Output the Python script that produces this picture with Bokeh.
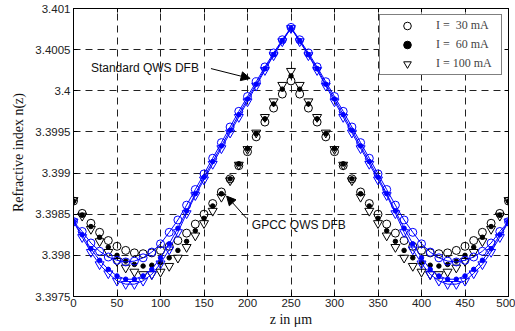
from bokeh.plotting import figure
from bokeh.models import (Range1d, LinearAxis, Legend, LegendItem, Label, Arrow, NormalHead,
                          FixedTicker, CustomJSTickFormatter)
from bokeh.embed import file_html
from bokeh.resources import INLINE

# ---------------- data ----------------
z = [0, 10, 20, 30, 40, 50, 60, 70, 80, 90, 100, 110, 120, 130, 140, 150, 160, 170, 180, 190, 200,
     210, 220, 230, 240, 250, 260, 270, 280, 290, 300, 310, 320, 330, 340, 350, 360, 370, 380, 390,
     400, 410, 420, 430, 440, 450, 460, 470, 480, 490, 500]

# Standard QWS DFB (blue, markers + line)
std_30 = [3.39841, 3.39829, 3.39815, 3.39805, 3.39798, 3.39794, 3.39792, 3.39793, 3.39797, 3.39804,
          3.39814, 3.39828, 3.39843, 3.39861, 3.39880, 3.39899, 3.39918, 3.39937, 3.39956, 3.39975,
          3.39993, 3.40011, 3.40029, 3.40046, 3.40062, 3.40077,
          3.40062, 3.40046, 3.40029, 3.40011, 3.39993, 3.39975, 3.39956, 3.39937, 3.39918, 3.39899,
          3.39880, 3.39861, 3.39843, 3.39828, 3.39814, 3.39804, 3.39797, 3.39793, 3.39792, 3.39794,
          3.39798, 3.39805, 3.39815, 3.39829, 3.39841]
std_60 = [3.39841, 3.39825, 3.39808, 3.39794, 3.39783, 3.39775, 3.39771, 3.39771, 3.39775, 3.39783,
          3.39797, 3.39814, 3.39833, 3.39854, 3.39875, 3.39895, 3.39914, 3.39933, 3.39952, 3.39971,
          3.39990, 3.40008, 3.40027, 3.40044, 3.40061, 3.40076,
          3.40061, 3.40044, 3.40027, 3.40008, 3.39990, 3.39971, 3.39952, 3.39933, 3.39914, 3.39895,
          3.39875, 3.39854, 3.39833, 3.39814, 3.39797, 3.39783, 3.39775, 3.39771, 3.39771, 3.39775,
          3.39783, 3.39794, 3.39808, 3.39825, 3.39841]
std_100 = [3.39841, 3.39822, 3.39804, 3.39789, 3.39778, 3.39769, 3.39765, 3.39765, 3.39769, 3.39777,
           3.39790, 3.39807, 3.39828, 3.39851, 3.39873, 3.39892, 3.39911, 3.39930, 3.39949, 3.39968,
           3.39987, 3.40006, 3.40025, 3.40043, 3.40060, 3.40076,
           3.40060, 3.40043, 3.40025, 3.40006, 3.39987, 3.39968, 3.39949, 3.39930, 3.39911, 3.39892,
           3.39873, 3.39851, 3.39828, 3.39807, 3.39790, 3.39777, 3.39769, 3.39765, 3.39765, 3.39769,
           3.39778, 3.39789, 3.39804, 3.39822, 3.39841]

# GPCC QWS DFB (black, markers only)
gpcc_30 = [3.39866, 3.39851, 3.39839, 3.39828, 3.39818, 3.39811, 3.39806, 3.39803, 3.39802, 3.39803,
           3.39806, 3.39811, 3.39818, 3.39827, 3.39838, 3.39850, 3.39863, 3.39877, 3.39893, 3.39909,
           3.39926, 3.39944, 3.39962, 3.39979, 3.39996, 3.40012,
           3.39996, 3.39979, 3.39962, 3.39944, 3.39926, 3.39909, 3.39893, 3.39877, 3.39863, 3.39850,
           3.39838, 3.39827, 3.39818, 3.39811, 3.39806, 3.39803, 3.39802, 3.39803, 3.39806, 3.39811,
           3.39818, 3.39828, 3.39839, 3.39851, 3.39866]
gpcc_60 = [3.39866, 3.39849, 3.39835, 3.39822, 3.39810, 3.39800, 3.39793, 3.39789, 3.39787, 3.39788,
           3.39791, 3.39797, 3.39806, 3.39817, 3.39830, 3.39845, 3.39860, 3.39875, 3.39893, 3.39911,
           3.39930, 3.39948, 3.39966, 3.39984, 3.40002, 3.40018,
           3.40002, 3.39984, 3.39966, 3.39948, 3.39930, 3.39911, 3.39893, 3.39875, 3.39860, 3.39845,
           3.39830, 3.39817, 3.39806, 3.39797, 3.39791, 3.39788, 3.39787, 3.39789, 3.39793, 3.39800,
           3.39810, 3.39822, 3.39835, 3.39849, 3.39866]
gpcc_100 = [3.39867, 3.39848, 3.39832, 3.39817, 3.39804, 3.39793, 3.39785, 3.39780, 3.39777, 3.39777,
            3.39780, 3.39787, 3.39797, 3.39810, 3.39824, 3.39839, 3.39854, 3.39871, 3.39891, 3.39910,
            3.39929, 3.39949, 3.39968, 3.39987, 3.40007, 3.40024,
            3.40007, 3.39987, 3.39968, 3.39949, 3.39929, 3.39910, 3.39891, 3.39871, 3.39854, 3.39839,
            3.39824, 3.39810, 3.39797, 3.39787, 3.39780, 3.39777, 3.39777, 3.39780, 3.39785, 3.39793,
            3.39804, 3.39817, 3.39832, 3.39848, 3.39867]

legend_labels = ["I =  30 mA", "I =  60 mA", "I = 100 mA"]
x_ticks = [0, 50, 100, 150, 200, 250, 300, 350, 400, 450, 500]
y_ticks = [3.3975, 3.398, 3.3985, 3.399, 3.3995, 3.4, 3.4005, 3.401]
y_tick_labels = ["3.3975", "3.398", "3.3985", "3.399", "3.3995", "3.4", "3.4005", "3.401"]

# ---------------- figure ----------------
p = figure(width=515, height=331, output_backend="svg", toolbar_location=None,
           x_range=Range1d(0, 500), y_range=Range1d(3.3975, 3.401),
           min_border_left=73, min_border_right=7, min_border_top=8, min_border_bottom=35)
p.background_fill_color = "white"
p.border_fill_color = "white"
p.outline_line_color = "black"
p.outline_line_width = 1

SANS = "Liberation Sans"
SERIF = "Liberation Serif"

p.xaxis.ticker = FixedTicker(ticks=x_ticks)
p.yaxis.ticker = FixedTicker(ticks=y_ticks)
p.yaxis.major_label_overrides = {v: s for v, s in zip(y_ticks, y_tick_labels)}
for ax in [p.xaxis[0], p.yaxis[0]]:
    ax.major_tick_in = 4
    ax.major_tick_out = 0
    ax.minor_tick_line_color = None
    ax.axis_line_color = "black"
    ax.major_tick_line_color = "black"
    ax.major_label_text_font = SANS
    ax.major_label_text_font_size = "11.5px"
    ax.major_label_text_color = "#222222"
    ax.axis_label_text_font = SERIF
    ax.axis_label_text_font_size = "14px"
    ax.axis_label_text_font_style = "normal"
    ax.axis_label_text_color = "#111111"
p.xaxis.axis_label = "z in \u03bcm"
p.yaxis.axis_label = "Refractive index n(z)"
p.xaxis.major_label_standoff = 2
p.xaxis.axis_label_standoff = 2
p.yaxis.major_label_standoff = 3
p.yaxis.axis_label_standoff = 6

# tick marks on top and right (box), no labels
blank = CustomJSTickFormatter(code="return ''")
top_ax = LinearAxis(ticker=FixedTicker(ticks=x_ticks), formatter=blank,
                    major_label_standoff=0, major_tick_in=4, major_tick_out=0,
                    minor_tick_line_color=None, axis_line_color="black")
right_ax = LinearAxis(ticker=FixedTicker(ticks=y_ticks), formatter=blank,
                      major_label_standoff=0, major_tick_in=4, major_tick_out=0,
                      minor_tick_line_color=None, axis_line_color="black")
p.add_layout(top_ax, "above")
p.add_layout(right_ax, "right")

# dashed grid
p.xgrid[0].ticker = FixedTicker(ticks=x_ticks)
p.ygrid[0].ticker = FixedTicker(ticks=y_ticks)
for g in [p.xgrid[0], p.ygrid[0]]:
    g.grid_line_color = "#222222"
    g.grid_line_dash = "7 5"
    g.grid_line_width = 1

BLUE = "#0000ff"

# GPCC markers (black)
r_c = p.scatter(z, gpcc_30, marker="circle", size=8, fill_color=None, line_color="black", line_width=1)
r_d = p.scatter(z, gpcc_60, marker="circle", size=4.5, fill_color="black", line_color="black")
r_t = p.scatter(z, gpcc_100, marker="inverted_triangle", size=9, fill_color=None, line_color="black", line_width=1)

# Standard QWS (blue)
for ys in [std_30, std_60, std_100]:
    p.line(z, ys, line_color=BLUE, line_width=1)
p.scatter(z, std_30, marker="circle", size=8, fill_color=None, line_color=BLUE, line_width=1)
p.scatter(z, std_60, marker="circle", size=4.5, fill_color=BLUE, line_color=BLUE)
p.scatter(z, std_100, marker="inverted_triangle", size=9, fill_color=None, line_color=BLUE, line_width=1)

# annotations
p.add_layout(Label(x=20, y=3.40028, text="Standard QWS DFB", text_font=SANS, text_font_size="12px",
                   text_baseline="middle", text_color="#111111"))
p.add_layout(Arrow(end=NormalHead(size=9, fill_color="black", line_color="black"),
                   x_start=158, y_start=3.40027, x_end=203, y_end=3.40015,
                   line_color="black", line_width=1))
p.add_layout(Label(x=205, y=3.39837, text="GPCC QWS DFB", text_font=SANS, text_font_size="12px",
                   text_baseline="middle", text_color="#111111"))
p.add_layout(Arrow(end=NormalHead(size=9, fill_color="black", line_color="black"),
                   x_start=199, y_start=3.39845, x_end=176, y_end=3.39872,
                   line_color="black", line_width=1))

# legend
legend = Legend(items=[LegendItem(label=legend_labels[0], renderers=[r_c]),
                       LegendItem(label=legend_labels[1], renderers=[r_d]),
                       LegendItem(label=legend_labels[2], renderers=[r_t])],
                location="top_right", margin=6, padding=1, spacing=0,
                glyph_width=52, glyph_height=19, label_height=19, label_width=64,
                label_standoff=3, label_text_font=SERIF, label_text_font_size="12px",
                border_line_color="black", border_line_width=1, background_fill_color="white",
                background_fill_alpha=1)
p.add_layout(legend)

open("out.html", "w").write(file_html(p, INLINE))
